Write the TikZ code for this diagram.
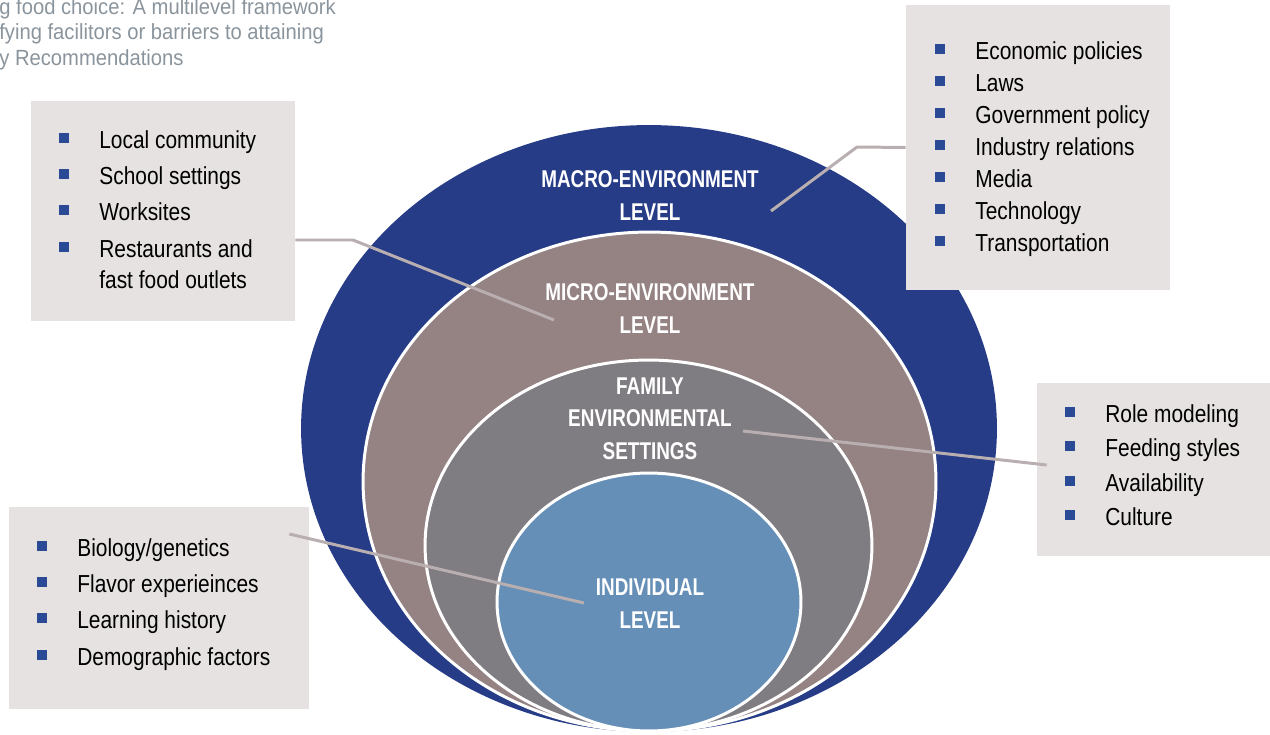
\documentclass[tikz,border=0pt]{standalone}
\usepackage{fontspec}
\usepackage{tikz}
\usetikzlibrary{shapes.geometric}

\newfontfamily\listfont[FakeStretch=0.85]{Liberation Sans}
\newfontfamily\levelfont[FakeStretch=0.78]{Liberation Sans}
\newfontfamily\titlefont[FakeStretch=0.92]{Liberation Sans}

\definecolor{macroblue}{RGB}{38,60,135}
\definecolor{micromauve}{RGB}{149,130,131}
\definecolor{familygrey}{RGB}{127,124,130}
\definecolor{indivblue}{RGB}{101,143,183}
\definecolor{boxgrey}{RGB}{230,226,225}
\definecolor{bulletblue}{RGB}{42,74,150}
\definecolor{linkgrey}{RGB}{185,175,176}
\definecolor{titlegrey}{RGB}{138,148,156}

\tikzset{
  ring/.style={shape=ellipse,inner sep=0pt,outer sep=0pt},
  innerring/.style={ring,draw=white,line width=1.7pt},
  levellabel/.style={text=white,align=center,inner sep=0pt,
    font=\levelfont\bfseries\fontsize{13.8}{18.7}\selectfont},
  listbox/.style={shape=rectangle,fill=boxgrey,inner sep=0pt},
  bulletsq/.style={shape=rectangle,fill=bulletblue,minimum size=0.2cm,inner sep=0pt},
  listitem/.style={anchor=base west,inner sep=0pt,font=\listfont\fontsize{14}{16}\selectfont},
  titleline/.style={anchor=base west,inner sep=0pt,text=titlegrey,
    font=\titlefont\fontsize{12.5}{14}\selectfont},
  link/.style={draw=linkgrey,line width=1.7pt}
}

\begin{document}
\begin{tikzpicture}[x=0.02cm,y=-0.02cm]
    \useasboundingbox (0,0) rectangle (1270,734);

    % caption lines, cut off at the left
    \node[titleline] (title1) at (-1,14) {g food choice: A multilevel framework};
    \node[titleline] (title2) at (-1,39) {fying facilitors or barriers to attaining};
    \node[titleline] (title3) at (-1,65) {y Recommendations};

    % nested levels
    \node[ring,fill=macroblue,minimum width=13.92cm,minimum height=12.14cm] (macro) at (649,428.5){};
    \node[innerring,fill=micromauve,minimum width=11.46cm,minimum height=9.98cm] (micro) at (649.5,481.5){};
    \node[innerring,fill=familygrey,minimum width=8.94cm,minimum height=7.42cm] (family) at (648.5,545.5){};
    \node[innerring,fill=indivblue,minimum width=6.08cm,minimum height=5.16cm] (indiv) at (649,602){};

    \node[levellabel] (macrolabel) at (650,195.6){MACRO-ENVIRONMENT\\LEVEL};
    \node[levellabel] (microlabel) at (650,308.3){MICRO-ENVIRONMENT\\LEVEL};
    \node[levellabel] (familylabel) at (650,418.7){FAMILY\\ENVIRONMENTAL\\SETTINGS};
    \node[levellabel] (indivlabel) at (650,603.7){INDIVIDUAL\\LEVEL};

    % factor boxes
    \node[listbox,minimum width=5.28cm,minimum height=5.7cm] (macrobox) at (1038,147.5){};
    \node[listbox,minimum width=5.28cm,minimum height=4.4cm] (microbox) at (163,211){};
    \node[listbox,minimum width=4.66cm,minimum height=3.46cm] (familybox) at (1153.5,469.5){};
    \node[listbox,minimum width=6cm,minimum height=4.04cm] (indivbox) at (159,608){};

    \foreach \y/\txt [count=\i] in {59/Economic policies,91/Laws,123/Government policy,
        155/Industry relations,187/Media,219/Technology,251/Transportation}{
        \node[bulletsq] (macrobullet\i) at (940,\y-10){};
        \node[listitem] (macroitem\i) at (975,\y){\txt};
    }
    \foreach \y/\txt [count=\i] in {148/Local community,184/School settings,
        220/Worksites,257/Restaurants and}{
        \node[bulletsq] (microbullet\i) at (64,\y-10){};
        \node[listitem] (microitem\i) at (99,\y){\txt};
    }
    \node[listitem] (microitem5) at (99,288){fast food outlets};
    \foreach \y/\txt [count=\i] in {422/Role modeling,456/Feeding styles,
        491/Availability,525/Culture}{
        \node[bulletsq] (familybullet\i) at (1070,\y-10){};
        \node[listitem] (familyitem\i) at (1105,\y){\txt};
    }
    \foreach \y/\txt [count=\i] in {556/{Biology/genetics},592/Flavor experieinces,
        628/Learning history,665/Demographic factors}{
        \node[bulletsq] (indivbullet\i) at (42,\y-10){};
        \node[listitem] (indivitem\i) at (77,\y){\txt};
    }

    % leader lines
    \coordinate (macroknee) at (857,147);
    \coordinate (macrotip) at (771,211);
    \coordinate (microknee) at (353,240);
    \coordinate (microtip) at (554,320);
    \coordinate (familytip) at (743,431);
    \coordinate (indivtip) at (584,603);
    \draw[link] (macrobox.west) -- (macroknee) -- (macrotip);
    \draw[link] (microbox.east |- microknee) -- (microknee) -- (microtip);
    \path[link] (familytip) edge ([shift={(10,-4.5)}]familybox.west);
    \path[link] ([shift={(-20,-74)}]indivbox.east) edge (indivtip);
\end{tikzpicture}
\end{document}
